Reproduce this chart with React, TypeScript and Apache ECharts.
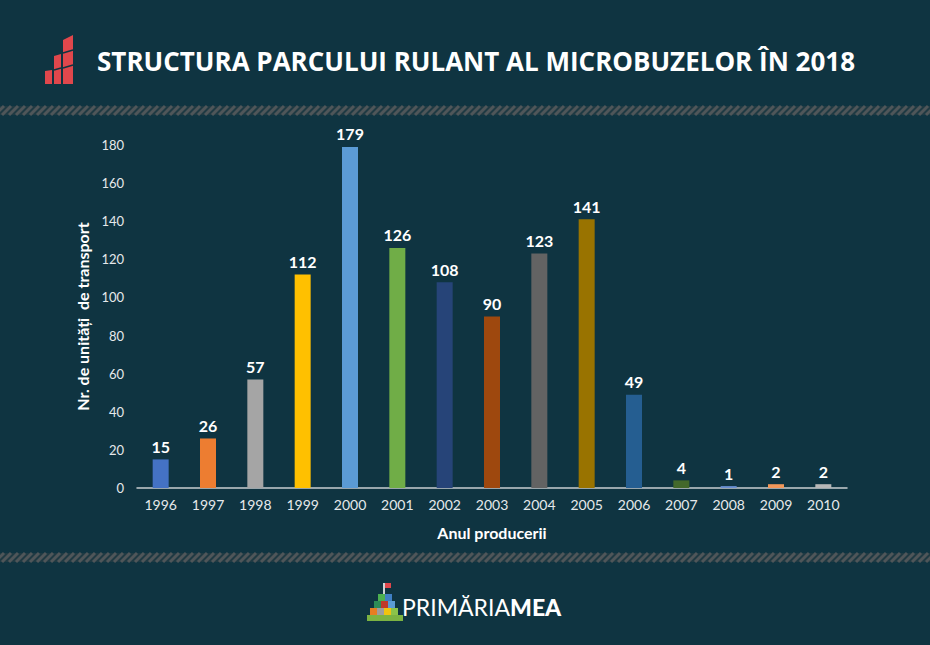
import React, { useEffect, useRef } from "react";
import * as echarts from "echarts";

const years = ["1996","1997","1998","1999","2000","2001","2002","2003","2004","2005","2006","2007","2008","2009","2010"];
const units = [15, 26, 57, 112, 179, 126, 108, 90, 123, 141, 49, 4, 1, 2, 2];
const barColors = ["#4472c4","#ed7d31","#a5a5a5","#ffc000","#5b9bd5","#70ad47","#264478","#9e480e","#636363","#997300","#255e91","#43682b","#698ed0","#f1975a","#b7b7b7"];
const yTicks = [0, 20, 40, 60, 80, 100, 120, 140, 160, 180];

const BG = "#0f3441";

function hatchBand(y0: number, h: number) {
  const els: any[] = [];
  els.push({ type: "rect", shape: { x: 0, y: y0, width: 930, height: h }, style: { fill: "#1f3a43" }, silent: true });
  for (let x = -12; x < 940; x += 7) {
    els.push({
      type: "line",
      shape: { x1: x, y1: y0 + h, x2: x + h, y2: y0 },
      style: { stroke: "#4f5659", lineWidth: 3 },
      silent: true,
    });
  }
  return { type: "group", children: els };
}

export default function App() {
  const ref = useRef<HTMLDivElement>(null);
  useEffect(() => {
    if (!ref.current) return;
    const chart = echarts.init(ref.current, null, { renderer: "svg" });
    const red = "#e0474c";
    const option: any = {
      animation: false,
      backgroundColor: BG,
      grid: { left: 137, right: 83, top: 145, bottom: 157, containLabel: false },
      xAxis: {
        type: "category",
        data: years,
        name: "Anul producerii",
        nameLocation: "middle",
        nameGap: 36,
        nameTextStyle: { color: "#ffffff", fontFamily: "Lato", fontWeight: "bold", fontSize: 16 },
        axisLine: { lineStyle: { color: "#c9cdd0", width: 1.5 } },
        axisTick: { show: false },
        axisLabel: { color: "#e6e9eb", fontFamily: "Lato", fontSize: 14, margin: 9 },
      },
      yAxis: {
        type: "value",
        min: 0,
        max: 180,
        interval: 20,
        name: "Nr. de unități  de transport",
        nameLocation: "middle",
        nameGap: 46,
        nameTextStyle: { color: "#ffffff", fontFamily: "Lato", fontWeight: "bold", fontSize: 16 },
        axisLine: { show: false },
        axisTick: { show: false },
        splitLine: { show: false },
        axisLabel: { color: "#e6e9eb", fontFamily: "Lato", fontSize: 13, margin: 13,
          formatter: (v: number) => (yTicks.includes(v) ? String(v) : "") },
      },
      series: [
        {
          type: "bar",
          data: units.map((v, i) => ({ value: v, itemStyle: { color: barColors[i] } })),
          barWidth: 16,
          label: { show: true, position: "top", distance: 5, color: "#ffffff", fontFamily: "Lato", fontWeight: "bold", fontSize: 16 },
        },
      ],
      graphic: [
        hatchBand(106, 9),
        hatchBand(553, 9),
        {
          type: "group",
          children: [
            { type: "polygon", shape: { points: [[45, 71], [52, 70], [52, 84], [45, 84]] }, style: { fill: red } },
            { type: "polygon", shape: { points: [[54, 56], [61, 54], [61, 84], [54, 84]] }, style: { fill: red } },
            { type: "polygon", shape: { points: [[63, 40], [73, 35], [73, 84], [63, 84]] }, style: { fill: red } },
            { type: "line", shape: { x1: 54, y1: 70, x2: 61, y2: 68 }, style: { stroke: BG, lineWidth: 1.5 } },
            { type: "line", shape: { x1: 63, y1: 53, x2: 73, y2: 50 }, style: { stroke: BG, lineWidth: 1.5 } },
            { type: "line", shape: { x1: 63, y1: 68, x2: 73, y2: 65 }, style: { stroke: BG, lineWidth: 1.5 } },
          ],
        },
        {
          type: "text",
          x: 97,
          y: 61,
          style: { text: "STRUCTURA PARCULUI RULANT AL MICROBUZELOR ÎN 2018", fill: "#ffffff", font: "bold 26px 'Open Sans'", textVerticalAlign: "middle" },
        },
        {
          type: "group",
          children: [
            { type: "rect", shape: { x: 383, y: 583, width: 2, height: 12 }, style: { fill: "#cfd4d6" } },
            { type: "rect", shape: { x: 385, y: 583, width: 6, height: 5 }, style: { fill: "#e0474c" } },
            { type: "rect", shape: { x: 378, y: 594, width: 7, height: 7 }, style: { fill: "#4caf50" } },
            { type: "rect", shape: { x: 385, y: 594, width: 7, height: 7 }, style: { fill: "#3f7fc4" } },
            { type: "rect", shape: { x: 374, y: 601, width: 7, height: 7 }, style: { fill: "#2e8b57" } },
            { type: "rect", shape: { x: 381, y: 601, width: 7, height: 7 }, style: { fill: "#c0392b" } },
            { type: "rect", shape: { x: 388, y: 601, width: 7, height: 7 }, style: { fill: "#5b9bd5" } },
            { type: "rect", shape: { x: 370, y: 608, width: 7, height: 7 }, style: { fill: "#e67e22" } },
            { type: "rect", shape: { x: 377, y: 608, width: 7, height: 7 }, style: { fill: "#9e9e9e" } },
            { type: "rect", shape: { x: 384, y: 608, width: 7, height: 7 }, style: { fill: "#f1c40f" } },
            { type: "rect", shape: { x: 391, y: 608, width: 7, height: 7 }, style: { fill: "#8bc34a" } },
            { type: "rect", shape: { x: 367, y: 615, width: 36, height: 6 }, style: { fill: "#7cb342" } },
          ],
        },
        {
          type: "text",
          x: 402,
          y: 607,
          style: {
            text: "{a|PRIMĂRIA}{b|MEA}",
            textVerticalAlign: "middle",
            rich: {
              a: { fill: "#ffffff", font: "normal 23px Lato" },
              b: { fill: "#ffffff", font: "900 23px Lato" },
            },
          },
        },
      ],
    };
    chart.setOption(option);
    return () => chart.dispose();
  }, []);
  return <div ref={ref} style={{ width: 930, height: 645, position: "absolute", left: 0, top: 0 }} />;
}
